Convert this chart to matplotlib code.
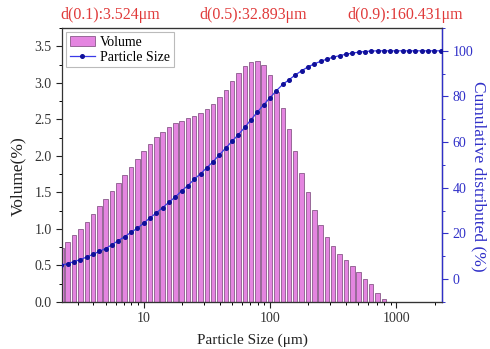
import matplotlib
matplotlib.use("Agg")
import matplotlib.pyplot as plt
import numpy as np
from matplotlib.ticker import MultipleLocator, LogLocator, NullFormatter, FixedLocator

plt.rcParams['font.family'] = ['Liberation Serif', 'DejaVu Serif']
plt.rcParams['mathtext.fontset'] = 'stix'

# ---- data ----
sizes = [2.24, 2.51, 2.82, 3.16, 3.55, 3.98, 4.47, 5.01, 5.62, 6.31, 7.08, 7.94, 8.91,
         10.0, 11.2, 12.6, 14.1, 15.8, 17.8, 20.0, 22.4, 25.1, 28.2, 31.6, 35.5, 39.8,
         44.7, 50.1, 56.2, 63.1, 70.8, 79.4, 89.1, 100, 112, 126, 141, 158, 178, 200,
         224, 251, 282, 316, 355, 398, 447, 501, 562, 631, 708, 794]
volume = [0.74, 0.82, 0.91, 1.00, 1.10, 1.21, 1.31, 1.41, 1.52, 1.63, 1.74, 1.85, 1.96,
          2.06, 2.16, 2.26, 2.33, 2.40, 2.45, 2.48, 2.52, 2.55, 2.59, 2.64, 2.71, 2.80,
          2.90, 3.02, 3.13, 3.23, 3.29, 3.30, 3.24, 3.11, 2.88, 2.65, 2.37, 2.06, 1.77,
          1.50, 1.26, 1.06, 0.89, 0.77, 0.66, 0.58, 0.49, 0.41, 0.32, 0.24, 0.12, 0.04]
cum_sizes = sizes + [891, 1000, 1122, 1259, 1413, 1585, 1778, 1995, 2239]
cumulative = [6.1, 6.8, 7.7, 8.6, 9.7, 10.9, 12.2, 13.4, 15.1, 16.9, 18.6, 20.5, 22.3,
              24.5, 26.8, 29.0, 31.3, 33.6, 36.0, 38.7, 41.0, 43.7, 46.2, 48.8, 51.5,
              54.5, 57.5, 60.4, 63.3, 66.5, 69.9, 73.2, 76.4, 79.5, 82.5, 85.3, 87.3,
              89.4, 91.3, 93.0, 94.3, 95.4, 96.4, 97.2, 97.9, 98.5, 99.0, 99.4, 99.7,
              99.9, 100, 100, 100, 100, 100, 100, 100, 100, 100, 100, 100]
x_ticks = [10, 100, 1000]
x_ticklabels = ["10", "100", "1000"]
d_labels = ["d(0.1):3.524\u03bcm", "d(0.5):32.893\u03bcm", "d(0.9):160.431\u03bcm"]

# ---- figure ----
fig = plt.figure(figsize=(4.90, 3.49), dpi=100)
ax = fig.add_axes([0.1265, 0.1347, 0.7755, 0.7851])
ax2 = ax.twinx()

s = np.array(sizes)
half = 0.0178
left = s * 10 ** (-half)
width = s * (10 ** half - 10 ** (-half))
bars = ax.bar(left, volume, width=width, align='edge', color='#E485E0',
              edgecolor='#8A5A8A', linewidth=0.6, label='Volume', zorder=2)

line, = ax2.plot(cum_sizes, cumulative, color='#3A3AE8', lw=0.9, marker='o',
                 markersize=2.6, markerfacecolor='#10109A', markeredgecolor='#10109A',
                 label='Particle Size', zorder=3)

ax.set_xscale('log')
ax.set_xlim(2.26, 2290)
ax.set_ylim(0, 3.75)
ax2.set_ylim(-10, 110)

ax.xaxis.set_major_locator(FixedLocator(x_ticks))
ax.set_xticklabels(x_ticklabels)
ax.xaxis.set_minor_locator(LogLocator(base=10, subs=np.arange(2, 10)))
ax.xaxis.set_minor_formatter(NullFormatter())

ax.yaxis.set_major_locator(MultipleLocator(0.5))
ax.yaxis.set_minor_locator(MultipleLocator(0.25))
ax.set_yticks(np.arange(0, 3.51, 0.5))
ax.set_yticklabels([f"{v:.1f}" for v in np.arange(0, 3.51, 0.5)])

ax2.set_yticks(np.arange(0, 101, 20))
ax2.yaxis.set_minor_locator(MultipleLocator(10))

blue = '#3030C8'
for a in (ax, ax2):
    a.tick_params(which='major', direction='out', length=4, width=0.8, labelsize=10)
    a.tick_params(which='minor', direction='out', length=2.5, width=0.7)
ax.tick_params(axis='both', colors='#222222', labelcolor='#333333')
ax2.tick_params(axis='y', which='both', colors=blue, labelcolor=blue)
ax.tick_params(axis='x', pad=3)

for sp in ('left', 'bottom', 'top'):
    ax.spines[sp].set_color('#333333')
    ax.spines[sp].set_linewidth(0.9)
ax2.spines['right'].set_color(blue)
ax2.spines['right'].set_linewidth(1.0)
ax2.spines['left'].set_visible(False)
ax2.spines['top'].set_color('#333333')
ax2.spines['bottom'].set_color('#333333')

ax.set_xlabel('Particle Size (\u03bcm)', fontsize=11, color='#222222', labelpad=6)
ax.set_ylabel('Volume(%)', fontsize=12.5, color='#222222', va='center')
ax.yaxis.set_label_coords(-0.115, 0.46)
ax2.set_ylabel('Cumulative distributed (%)', fontsize=12.5, color=blue,
               rotation=270, va='center')
ax2.yaxis.set_label_coords(1.097, 0.46)

red = '#E03A3A'
for xpix, t in zip([110, 253, 405], d_labels):
    fig.text(xpix / 490, 1 - 15 / 349, t, color=red, fontsize=11.5,
             ha='center', va='center')

leg = ax.legend(handles=[bars, line], loc='upper left', fontsize=10,
                frameon=True, fancybox=False, edgecolor='#AAAAAA',
                borderpad=0.25, handlelength=1.8, handletextpad=0.4,
                labelspacing=0.15, borderaxespad=0.3)
leg.get_frame().set_linewidth(0.8)

fig.savefig('out.png', dpi=100)
